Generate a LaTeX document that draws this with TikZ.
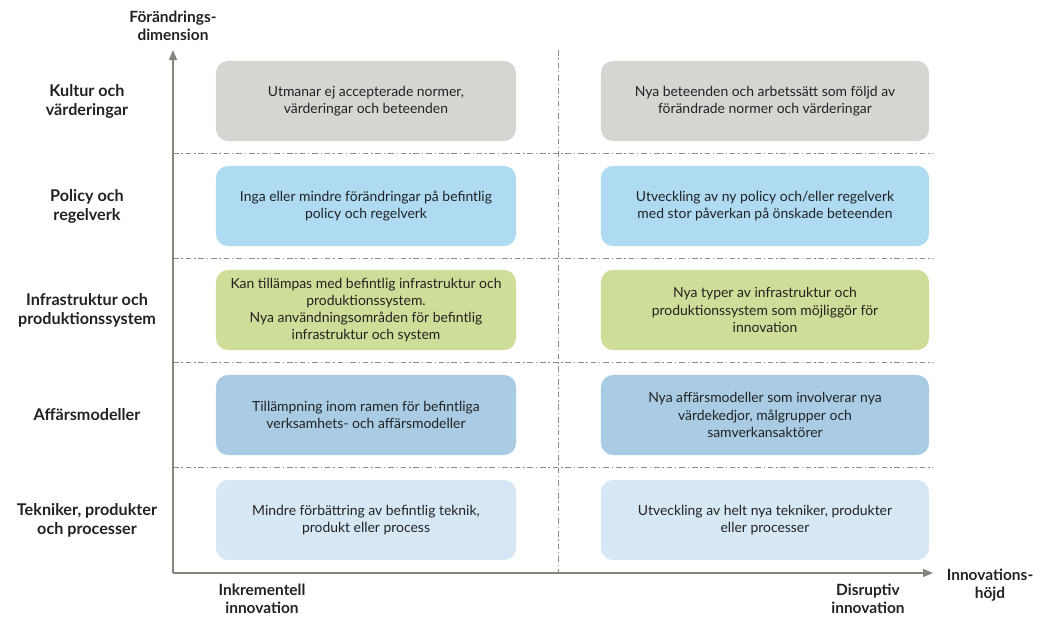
\documentclass[tikz,border=0pt]{standalone}
\usepackage{fontspec}
\setmainfont{Lato}
\usetikzlibrary{arrows.meta}

\definecolor{axisgray}{HTML}{85857D}
\definecolor{gridgray}{HTML}{8C8C8C}
\definecolor{kulturfill}{HTML}{D5D5D1}
\definecolor{policyfill}{HTML}{AEDAF2}
\definecolor{infrafill}{HTML}{CEDD97}
\definecolor{affarfill}{HTML}{A9CBE3}
\definecolor{teknikfill}{HTML}{D7E7F3}
\definecolor{textdark}{HTML}{222222}

\tikzset{
	cell/.style={rounded corners=0.3cm, minimum height=2cm, align=center,
		text=textdark, font=\fontsize{9.9}{12.2}\selectfont},
	leftcell/.style={cell, minimum width=7.5cm},
	rightcell/.style={cell, minimum width=8.2cm},
	rowlabel/.style={align=center, font=\fontsize{11.5}{13.5}\selectfont\bfseries, text=textdark},
	axislabel/.style={align=center, font=\fontsize{11}{12.8}\selectfont\bfseries, text=textdark},
	grid line/.style={gridgray, line width=0.5pt, dash pattern=on 4pt off 2pt on 1pt off 2pt},
	axis/.style={axisgray, line width=0.9pt, -{Triangle[length=0.25cm,width=0.2cm]}}
}

\begin{document}
\begin{tikzpicture}[x=0.025cm, y=-0.025cm]
		%%%%% START %%%%%
		\useasboundingbox (0, 0) rectangle (1048, 618);
		
		% grid
		\coordinate (origin) at (173, 573);
		\coordinate (ytip) at (173, 50);
		\coordinate (xtip) at (933, 573);
		\coordinate (midtop) at (558, 50);
		\coordinate (midbot) at (558, 573);
		\draw[grid line] (midtop) -- (midbot);
		\foreach \y in {153, 258, 362, 467}
			\draw[grid line] (173, \y) -- (933, \y);
		
		% cells
		\node[leftcell, fill=kulturfill] (kulturL) at (366, 101) {Utmanar ej accepterade normer,\\värderingar och beteenden};
		\node[rightcell, fill=kulturfill] (kulturR) at (765, 101) {Nya beteenden och arbetssätt som följd av\\förändrade normer och värderingar};
		
		\node[leftcell, fill=policyfill] (policyL) at (366, 206) {Inga eller mindre förändringar på befintlig\\policy och regelverk};
		\node[rightcell, fill=policyfill] (policyR) at (765, 206) {Utveckling av ny policy och/eller regelverk\\med stor påverkan på önskade beteenden};
		
		\node[leftcell, fill=infrafill] (infraL) at (366, 310) {Kan tillämpas med befintlig infrastruktur och\\produktionssystem.\\Nya användningsområden för befintlig\\infrastruktur och system};
		\node[rightcell, fill=infrafill] (infraR) at (765, 310) {Nya typer av infrastruktur och\\produktionssystem som möjliggör för\\innovation};
		
		\node[leftcell, fill=affarfill] (affarL) at (366, 415) {Tillämpning inom ramen för befintliga\\verksamhets- och affärsmodeller};
		\node[rightcell, fill=affarfill] (affarR) at (765, 415) {Nya affärsmodeller som involverar nya\\värdekedjor, målgrupper och\\samverkansaktörer};
		
		\node[leftcell, fill=teknikfill] (teknikL) at (366, 520) {Mindre förbättring av befintlig teknik,\\produkt eller process};
		\node[rightcell, fill=teknikfill] (teknikR) at (765, 520) {Utveckling av helt nya tekniker, produkter\\eller processer};
		
		% row labels
		\node[rowlabel] (kultur) at (87, 101) {Kultur och\\värderingar};
		\node[rowlabel] (policy) at (87, 206) {Policy och\\regelverk};
		\node[rowlabel] (infra) at (87, 310) {Infrastruktur och\\produktionssystem};
		\node[rowlabel] (affar) at (87, 415) {Affärsmodeller};
		\node[rowlabel] (teknik) at (87, 520) {Tekniker, produkter\\och processer};
		
		% axes
		\draw[axis] (origin) -- (ytip);
		\draw[axis] (origin) -- (xtip);
		\node[axislabel] (ylabel) at (173, 26) {Förändrings-\\dimension};
		\node[axislabel] (xlabel) at (990, 585) {Innovations-\\höjd};
		\node[axislabel] (inkr) at (262, 599) {Inkrementell\\innovation};
		\node[axislabel] (disr) at (868, 599) {Disruptiv\\innovation};
		
		%%%%% END %%%%%
	\end{tikzpicture}
\end{document}
